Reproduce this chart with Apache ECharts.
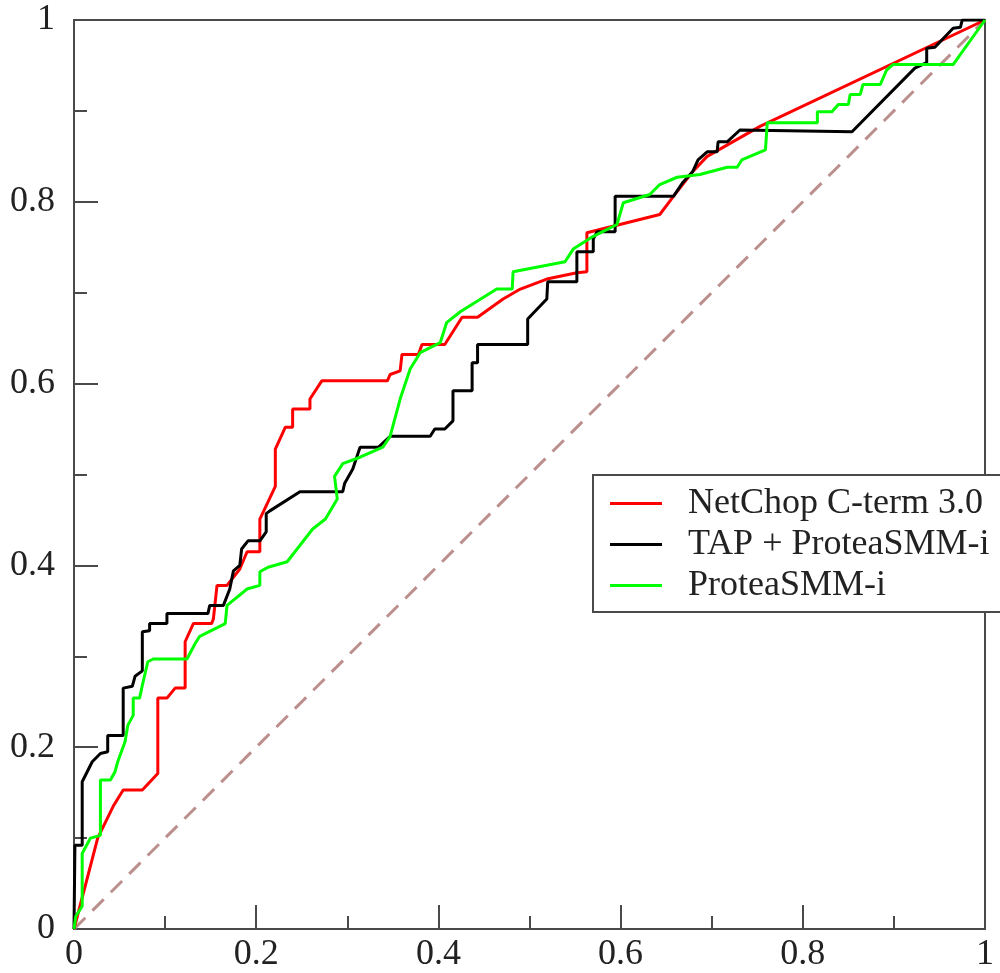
<!DOCTYPE html>
<html>
<head>
<meta charset="utf-8">
<script src="https://cdn.jsdelivr.net/npm/echarts@6/dist/echarts.min.js"></script>
<style>
html,body{margin:0;padding:0;background:#fff;}
#chart{width:1000px;height:973px;}
</style>
</head>
<body>
<div id="chart"></div>
<script>
var seriesNames = ['NetChop C-term 3.0', 'TAP + ProteaSMM-i', 'ProteaSMM-i'];
var xTicks = [0, 0.2, 0.4, 0.6, 0.8, 1];
var yTicks = [0, 0.2, 0.4, 0.6, 0.8, 1];

var netchop = [
  [0,0],[0.026,0.100],[0.043,0.135],[0.054,0.153],[0.075,0.153],[0.092,0.171],
  [0.092,0.254],[0.102,0.254],[0.111,0.265],[0.122,0.265],[0.122,0.316],[0.131,0.336],
  [0.151,0.336],[0.153,0.341],[0.157,0.378],[0.168,0.378],[0.182,0.396],[0.190,0.415],
  [0.204,0.415],[0.204,0.451],[0.213,0.470],[0.221,0.487],[0.221,0.528],[0.232,0.552],
  [0.240,0.552],[0.240,0.572],[0.259,0.572],[0.259,0.583],[0.272,0.603],[0.344,0.603],
  [0.347,0.610],[0.358,0.614],[0.360,0.632],[0.378,0.632],[0.382,0.643],[0.407,0.643],
  [0.426,0.673],[0.443,0.673],[0.471,0.693],[0.490,0.704],[0.519,0.715],[0.552,0.722],
  [0.563,0.723],[0.563,0.766],[0.643,0.786],[0.658,0.806],[0.679,0.833],[0.695,0.850],
  [0.753,0.883],[1,1]
];

var tapProtea = [
  [0,0],[0.001,0.092],[0.009,0.092],[0.009,0.162],[0.020,0.184],[0.029,0.193],
  [0.037,0.195],[0.037,0.213],[0.054,0.213],[0.054,0.265],[0.064,0.267],[0.067,0.278],
  [0.075,0.284],[0.075,0.327],[0.083,0.328],[0.083,0.336],[0.102,0.336],[0.102,0.347],
  [0.147,0.347],[0.149,0.356],[0.164,0.356],[0.171,0.374],[0.175,0.394],[0.182,0.400],
  [0.184,0.418],[0.191,0.427],[0.204,0.427],[0.211,0.437],[0.211,0.457],[0.215,0.460],
  [0.248,0.481],[0.295,0.481],[0.297,0.490],[0.306,0.506],[0.314,0.530],[0.334,0.530],
  [0.347,0.542],[0.391,0.542],[0.396,0.550],[0.407,0.550],[0.416,0.559],[0.416,0.592],
  [0.437,0.592],[0.437,0.623],[0.443,0.623],[0.443,0.643],[0.498,0.643],[0.498,0.671],
  [0.519,0.693],[0.520,0.712],[0.552,0.712],[0.552,0.745],[0.570,0.745],[0.570,0.759],
  [0.574,0.767],[0.594,0.767],[0.594,0.806],[0.658,0.806],[0.668,0.821],[0.679,0.833],
  [0.685,0.846],[0.695,0.855],[0.706,0.855],[0.707,0.866],[0.717,0.866],[0.731,0.879],
  [0.854,0.877],[0.923,0.947],[0.936,0.953],[0.936,0.969],[0.945,0.970],[0.965,0.991],
  [0.973,0.992],[0.975,1.0],[1,1]
];

var protea = [
  [0,0],[0.002,0.014],[0.009,0.025],[0.009,0.083],[0.018,0.100],[0.029,0.103],
  [0.029,0.164],[0.040,0.164],[0.045,0.173],[0.048,0.184],[0.056,0.206],[0.059,0.224],
  [0.065,0.235],[0.065,0.254],[0.072,0.254],[0.075,0.268],[0.081,0.294],[0.087,0.297],
  [0.124,0.297],[0.133,0.314],[0.138,0.322],[0.166,0.336],[0.168,0.356],[0.190,0.374],
  [0.204,0.378],[0.204,0.393],[0.213,0.398],[0.234,0.404],[0.262,0.440],[0.276,0.451],
  [0.289,0.473],[0.286,0.498],[0.295,0.512],[0.314,0.519],[0.339,0.530],[0.347,0.542],
  [0.358,0.583],[0.369,0.616],[0.380,0.634],[0.402,0.645],[0.409,0.667],[0.424,0.679],
  [0.464,0.704],[0.481,0.704],[0.482,0.723],[0.539,0.734],[0.548,0.748],[0.570,0.762],
  [0.596,0.775],[0.603,0.799],[0.632,0.808],[0.643,0.819],[0.662,0.827],[0.687,0.830],
  [0.717,0.838],[0.728,0.838],[0.733,0.846],[0.759,0.857],[0.761,0.887],[0.816,0.887],
  [0.816,0.899],[0.832,0.899],[0.839,0.907],[0.850,0.907],[0.852,0.918],[0.863,0.918],
  [0.866,0.929],[0.885,0.929],[0.892,0.945],[0.899,0.951],[0.965,0.951],[1,1]
];

var diagonal = [[0,0],[1,1]];

var fontFam = '"Liberation Serif", "DejaVu Serif", serif';
var axisColor = '#4a4a4a';

var chart = echarts.init(document.getElementById('chart'), null, {renderer: 'canvas'});
chart.setOption({
  backgroundColor: '#ffffff',
  animation: false,
  grid: {
    left: 74, right: 15, top: 20, bottom: 42,
    show: true, borderColor: axisColor, borderWidth: 2, backgroundColor: 'transparent'
  },
  xAxis: {
    type: 'value', min: xTicks[0], max: xTicks[xTicks.length - 1], interval: 0.2,
    axisLine: {show: true, lineStyle: {color: axisColor, width: 2}},
    axisTick: {show: true, inside: true, length: 24, lineStyle: {color: axisColor, width: 2}},
    minorTick: {show: true, splitNumber: 2, length: 13, lineStyle: {color: axisColor, width: 2}},
    splitLine: {show: false},
    axisLabel: {fontFamily: fontFam, fontSize: 36, color: '#222', margin: 8,
      formatter: function (v) { return String(+v.toFixed(2)); }}
  },
  yAxis: {
    type: 'value', min: yTicks[0], max: yTicks[yTicks.length - 1], interval: 0.2,
    axisLine: {show: true, lineStyle: {color: axisColor, width: 2}},
    axisTick: {show: true, inside: true, length: 24, lineStyle: {color: axisColor, width: 2}},
    minorTick: {show: true, splitNumber: 2, length: 13, lineStyle: {color: axisColor, width: 2}},
    splitLine: {show: false},
    axisLabel: {fontFamily: fontFam, fontSize: 36, color: '#222', margin: 19,
      formatter: function (v) { return String(+v.toFixed(2)); }}
  },
  legend: {
    data: seriesNames,
    orient: 'vertical',
    left: 593, top: 475,
    padding: [8, 30, 6, 17],
    itemGap: 0,
    itemWidth: 52, itemHeight: 3,
    icon: 'rect',
    backgroundColor: '#ffffff',
    borderColor: axisColor, borderWidth: 2,
    textStyle: {fontFamily: fontFam, fontSize: 36, color: '#222', lineHeight: 41, padding: [0, 0, 0, 21]}
  },
  series: [
    {
      name: 'diagonal', type: 'line', data: diagonal, showSymbol: false, silent: true,
      lineStyle: {color: '#bc8f8f', width: 3, type: [16, 10]}, z: 1
    },
    {
      name: seriesNames[0], type: 'line', data: netchop, showSymbol: false,
      lineStyle: {color: '#ff0000', width: 3}, itemStyle: {color: '#ff0000'}, z: 2
    },
    {
      name: seriesNames[1], type: 'line', data: tapProtea, showSymbol: false,
      lineStyle: {color: '#000000', width: 3}, itemStyle: {color: '#000000'}, z: 3
    },
    {
      name: seriesNames[2], type: 'line', data: protea, showSymbol: false,
      lineStyle: {color: '#00ff00', width: 3}, itemStyle: {color: '#00ff00'}, z: 4
    }
  ]
});
</script>
</body>
</html>
